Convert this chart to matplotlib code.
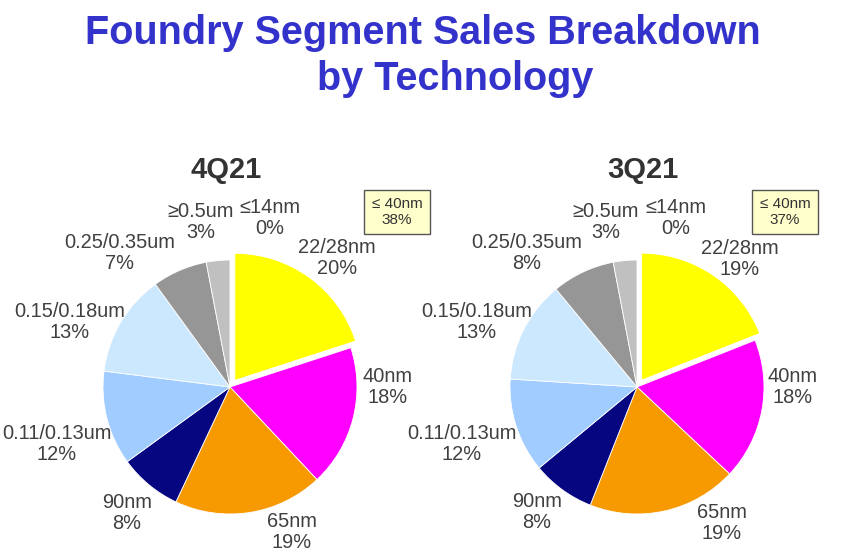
import matplotlib
matplotlib.use('Agg')
import matplotlib.pyplot as plt

plt.rcParams['font.family'] = ['Liberation Sans', 'DejaVu Sans']

# data
techs = ['≤14nm', '22/28nm', '40nm', '65nm', '90nm',
         '0.11/0.13um', '0.15/0.18um', '0.25/0.35um', '≥0.5um']
sales_4q21 = [0, 20, 18, 19, 8, 12, 13, 7, 3]
sales_3q21 = [0, 19, 18, 19, 8, 12, 13, 8, 3]
quarters = ['4Q21', '3Q21']

colors = ['#FFFFFF', '#FFFF00', '#FF00FF', '#F79900', '#060680',
          '#A0CCFF', '#CCE8FF', '#969696', '#C0C0C0']

W, H = 865, 557
fig = plt.figure(figsize=(W / 100, H / 100), dpi=100)
ax = fig.add_axes([0, 0, 1, 1])
ax.set_xlim(0, W)
ax.set_ylim(0, H)
ax.set_aspect('equal')
ax.axis('off')

def py(y):
    return H - y

# title
title_c = '#3333CC'
ax.text(423, py(44), 'Foundry Segment Sales Breakdown', ha='center', va='baseline',
        fontsize=28.5, fontweight='bold', color=title_c)
ax.text(455, py(90), 'by Technology', ha='center', va='baseline',
        fontsize=28.5, fontweight='bold', color=title_c)

# layout per pie: center, quarter-title x, label offsets (px, y down), box center
centers = [(230, 387), (637, 387)]
head_x = [226, 643]
box_xy = [(397, 212), (785, 212)]
offsets = [
    [(40, -169), (107, -129), (158, 0), (62, 145), (-103, 126),
     (-173, 57), (-160, -65), (-110, -134), (-29, -165)],
    [(39, -169), (103, -128), (156, 0), (85, 136), (-100, 125),
     (-175, 57), (-160, -65), (-110, -134), (-31, -165)],
]
R = 127
label_c = '#404040'

for i, vals in enumerate([sales_4q21, sales_3q21]):
    cx, cy = centers[i]
    # explode is in data units here (px), not fraction of radius
    explode = [0.065 * R if t == '22/28nm' else 0 for t in techs]
    ax.pie(vals, colors=colors, startangle=90, counterclock=False,
           center=(cx, py(cy)), radius=R, explode=explode,
           wedgeprops=dict(edgecolor='white', linewidth=0.6), frame=True)
    ax.text(head_x[i], py(178), quarters[i], ha='center', va='baseline',
            fontsize=21, fontweight='bold', color='#333333')
    for t, v, (dx, dy) in zip(techs, vals, offsets[i]):
        ax.text(cx + dx, py(cy + dy), f'{t}\n{v}%', ha='center', va='center',
                fontsize=14.4, color=label_c, linespacing=1.1)
    small = sum(vals[:3])
    bx, by = box_xy[i]
    ax.text(bx, py(by), f'≤ 40nm\n{small}%', ha='center', va='center',
            fontsize=11, color='#333333', linespacing=1.15,
            bbox=dict(boxstyle='square,pad=0.5', facecolor='#FFFFCC',
                      edgecolor='#555555', linewidth=1))

ax.set_xlim(0, W)
ax.set_ylim(0, H)
ax.axis('off')

fig.savefig('out.png', dpi=100)
